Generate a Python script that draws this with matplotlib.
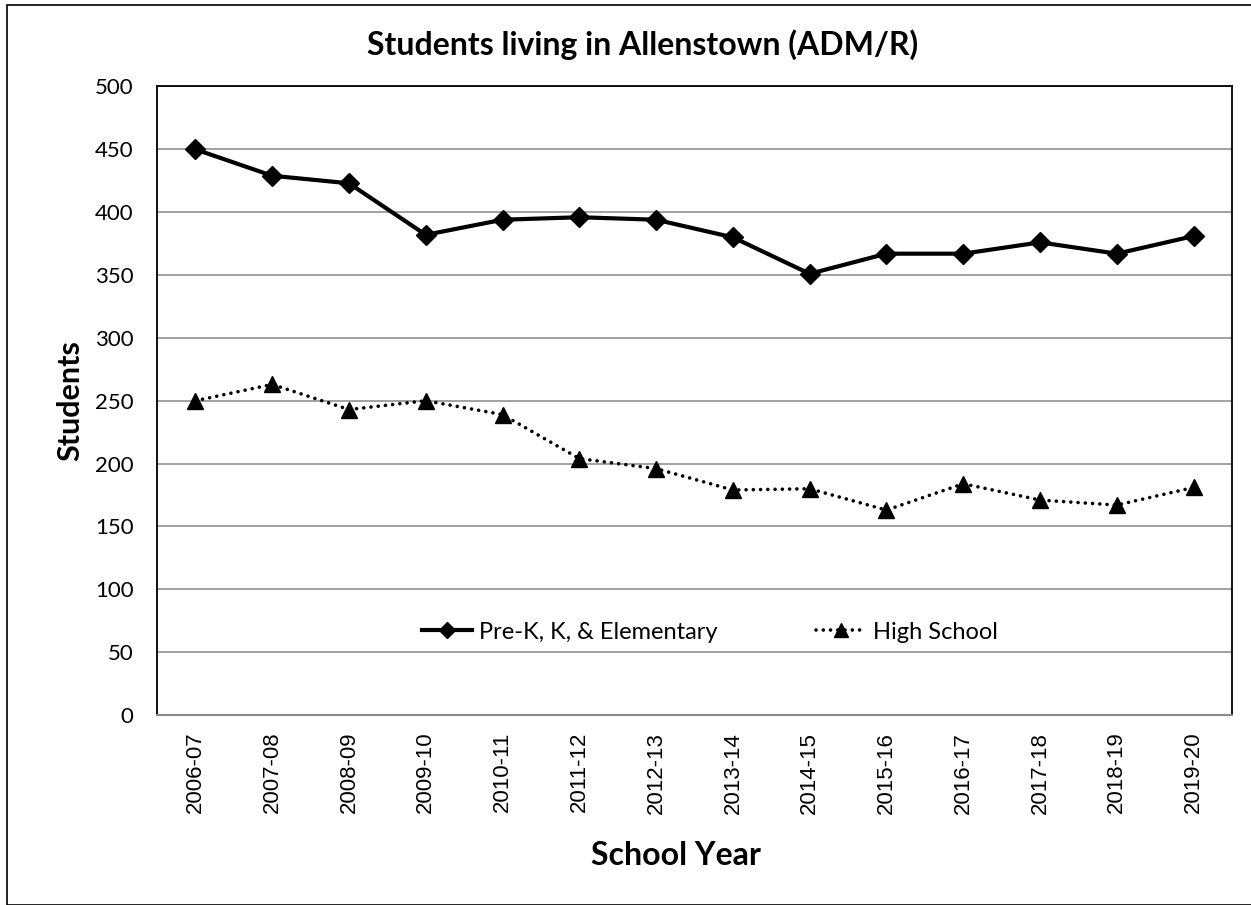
import matplotlib
matplotlib.use("Agg")
import matplotlib.pyplot as plt
from matplotlib.patches import Rectangle

years = ["2006-07", "2007-08", "2008-09", "2009-10", "2010-11", "2011-12", "2012-13",
         "2013-14", "2014-15", "2015-16", "2016-17", "2017-18", "2018-19", "2019-20"]
elementary = [450, 429, 423, 382, 394, 396, 394, 380, 351, 367, 367, 376, 367, 381]
high_school = [250, 263, 243, 250, 239, 204, 196, 179, 180, 163, 184, 171, 167, 181]
y_ticks = [0, 50, 100, 150, 200, 250, 300, 350, 400, 450, 500]

FONT = ["Lato", "DejaVu Sans"]
W, H = 1251, 905

fig = plt.figure(figsize=(W / 100, H / 100), dpi=100)
fig.patches.append(Rectangle((7 / W, 0), 1.2, (H - 5) / H, transform=fig.transFigure,
                             fill=False, edgecolor="#000000", linewidth=1.2))

ax = fig.add_axes([157 / W, (H - 715) / H, (1232 - 157) / W, (715 - 86.5) / H])
x = list(range(len(years)))

ax.plot(x, elementary, color="black", lw=3, marker="D", markersize=10,
        label="Pre-K, K, & Elementary", zorder=3)
ax.plot(x, high_school, color="black", lw=2.6, linestyle=(0, (0.01, 2.0)),
        dash_capstyle="round", marker="^", markersize=12, label="High School", zorder=3)

ax.set_xlim(-0.5, len(years) - 0.5)
ax.set_ylim(0, 500)
ax.set_yticks(y_ticks)
ax.set_yticklabels([str(v) for v in y_ticks], fontfamily=FONT, fontsize=16)
ax.set_xticks(x)
ax.set_xticklabels(years, rotation=90, fontfamily=["Liberation Sans"], fontsize=16)
ax.tick_params(axis="y", length=0, pad=17)
ax.tick_params(axis="x", length=0, pad=12)

ax.grid(axis="y", color="#9a9a9a", linewidth=1.3)
ax.set_axisbelow(True)
for s in ["top", "right", "left"]:
    ax.spines[s].set_color("black")
    ax.spines[s].set_linewidth(1.3)
ax.spines["bottom"].set_color("#8a8a8a")
ax.spines["bottom"].set_linewidth(1.5)

fig.text(643 / W, 1 - 45 / H, "Students living in Allenstown (ADM/R)", ha="center", va="center",
         fontsize=23, fontweight="bold", fontfamily=FONT)
fig.text(70 / W, 1 - 401 / H, "Students", ha="center", va="center", rotation=90,
         fontsize=22, fontweight="bold", fontfamily=FONT)
fig.text(676 / W, 1 - 855 / H, "School Year", ha="center", va="center",
         fontsize=23, fontweight="bold", fontfamily=FONT)

leg = ax.legend(loc="center", bbox_to_anchor=(710 / W, 1 - 632 / H), bbox_transform=fig.transFigure,
                ncol=2, frameon=False, prop={"family": FONT, "size": 17},
                handlelength=2.1, columnspacing=4.2, handletextpad=0.3, markerscale=0.8)

fig.savefig("out.png", dpi=100)
